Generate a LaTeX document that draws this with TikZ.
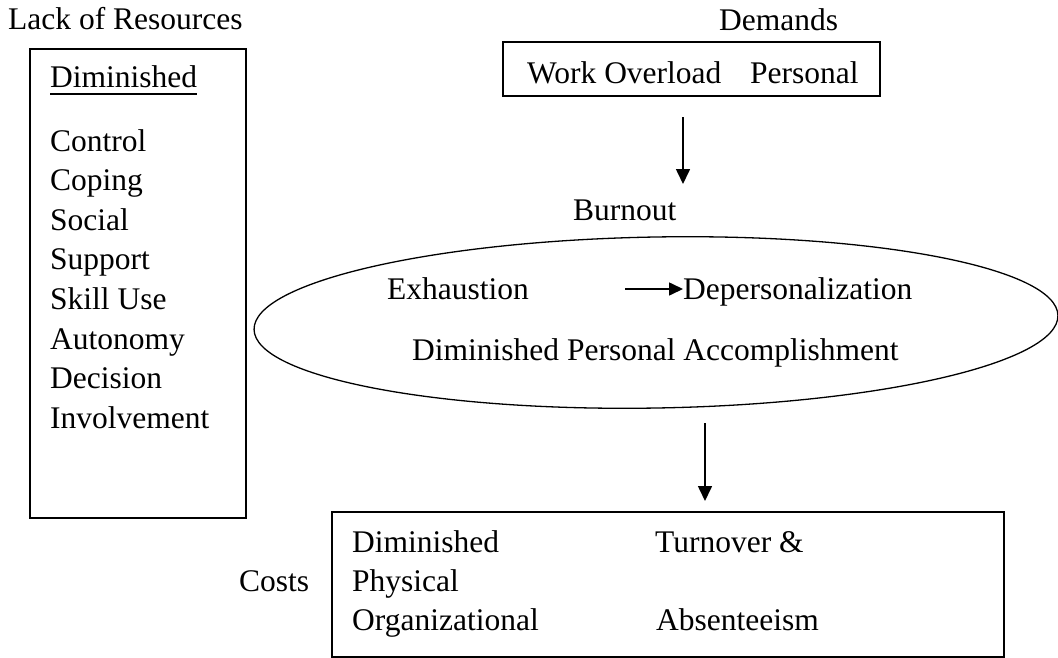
\documentclass[tikz,border=0pt]{standalone}
\usepackage{fontspec}
\setmainfont{Liberation Serif}
\usepackage{tikz}
\usetikzlibrary{arrows.meta,shapes}

\newcommand\diagfont{\fontsize{31.5bp}{39.6bp}\selectfont}

\tikzset{
  box/.style={draw,line width=1.5bp,inner sep=0pt},
  lbl/.style={inner sep=0pt,anchor=base west,font=\diagfont},
  flow/.style={-{Triangle[length=15bp,width=14bp]},line width=1.6bp},
  smallflow/.style={-{Triangle[length=14bp,width=13bp]},line width=1.6bp}
}

\begin{document}
\begin{tikzpicture}

\useasboundingbox (0bp,0bp) rectangle (1058bp,-658bp);

% resources
\node (lack) at (8bp,-29bp)[lbl] {Lack of Resources};
\node (res) at (138bp,-283.5bp)[box,minimum width=216bp,minimum height=469bp] {};
\node (dimres) at (50bp,-87bp)[lbl] {Diminished};
\draw[line width=1.2bp] ([yshift=-7bp]dimres.base west) -- ([yshift=-7bp]dimres.base east);
\node (control) at (50bp,-151bp)[lbl] {Control};
\node (coping) at (50bp,-190.6bp)[lbl] {Coping};
\node (social) at (50bp,-230.2bp)[lbl] {Social};
\node (support) at (50bp,-269.8bp)[lbl] {Support};
\node (skill) at (50bp,-309.4bp)[lbl] {Skill Use};
\node (autonomy) at (50bp,-349bp)[lbl] {Autonomy};
\node (decision) at (50bp,-388.6bp)[lbl] {Decision};
\node (involve) at (50bp,-428.2bp)[lbl] {Involvement};

% demands
\node (demands) at (719bp,-30bp)[lbl] {Demands};
\node (work) at (691.5bp,-69bp)[box,minimum width=377bp,minimum height=54bp] {};
\node (overload) at (527bp,-83bp)[lbl] {Work Overload};
\node (personal) at (750bp,-83bp)[lbl] {Personal};

\coordinate (a1s) at (683bp,-117bp);
\coordinate (a1e) at (683bp,-184bp);
\draw [flow] (a1s) -- (a1e);

% burnout
\node (burnout) at (573bp,-220bp)[lbl] {Burnout};
\node (burn) at (656bp,-322.5bp)[draw,ellipse,line width=1.3bp,inner sep=0pt,minimum width=804bp,minimum height=171bp,rotate=1] {};
\node (exh) at (387bp,-299bp)[lbl] {Exhaustion};
\node (dep) at (683bp,-299bp)[lbl] {Depersonalization};
\node (dpa) at (412bp,-360bp)[lbl] {Diminished Personal Accomplishment};
\coordinate (a2s) at (625bp,-289bp);
\draw [smallflow] (a2s) -- (a2s -| dep.west);

\coordinate (a3s) at (705bp,-423bp);
\coordinate (a3e) at (705bp,-501bp);
\draw [flow] (a3s) -- (a3e);

% costs
\node (costs) at (239bp,-591bp)[lbl] {Costs};
\node (cbox) at (668bp,-584.5bp)[box,minimum width=672bp,minimum height=145bp] {};
\node (dimc) at (352bp,-552bp)[lbl] {Diminished};
\node (phys) at (352bp,-591bp)[lbl] {Physical};
\node (org) at (352bp,-630bp)[lbl] {Organizational};
\node (turn) at (655bp,-552bp)[lbl] {Turnover \&};
\node (abs) at (656bp,-630bp)[lbl] {Absenteeism};
\end{tikzpicture}
\end{document}
